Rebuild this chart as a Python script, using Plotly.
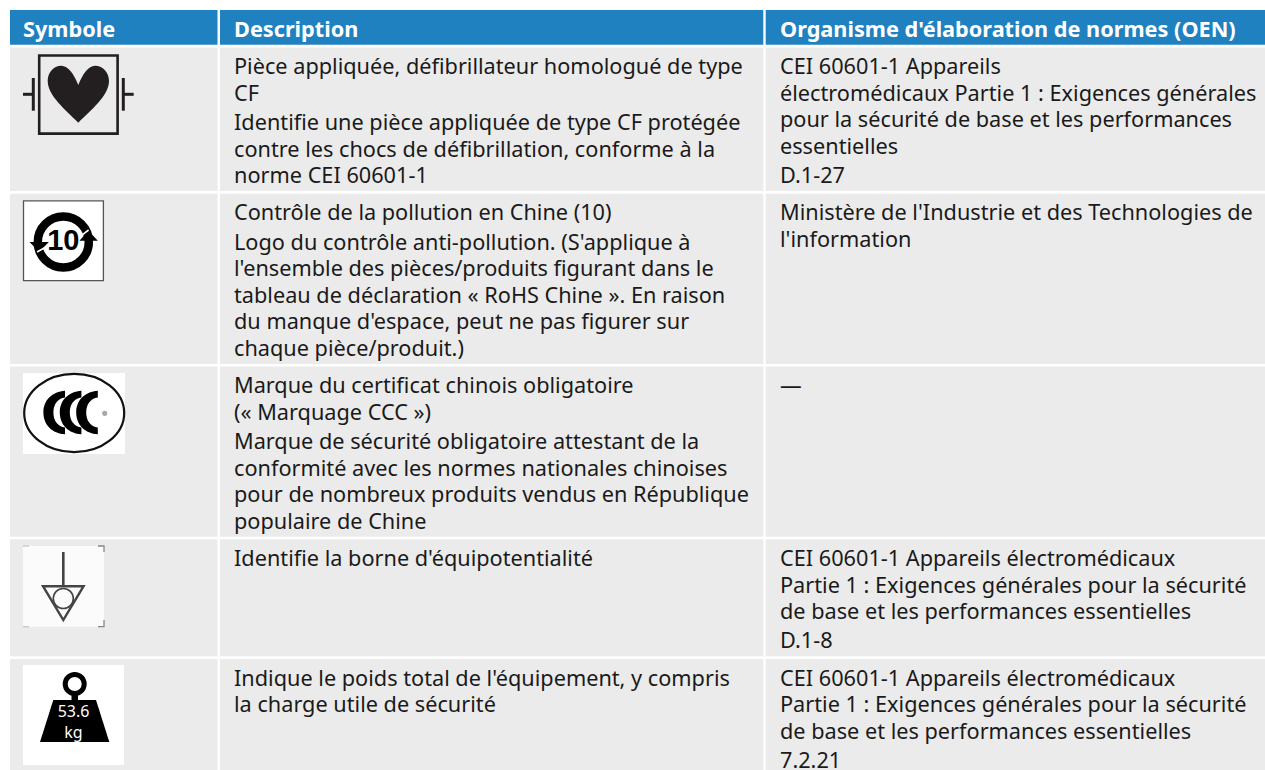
import plotly.graph_objects as go

# ---------- table content ----------
headers = ["Symbole", "Description", "Organisme d'élaboration de normes (OEN)"]

descriptions = [
    [["Pièce appliquée, défibrillateur homologué de type", "CF"],
     ["Identifie une pièce appliquée de type CF protégée",
      "contre les chocs de défibrillation, conforme à la",
      "norme CEI 60601-1"]],
    [["Contrôle de la pollution en Chine (10)"],
     ["Logo du contrôle anti-pollution. (S'applique à",
      "l'ensemble des pièces/produits figurant dans le",
      "tableau de déclaration « RoHS Chine ». En raison",
      "du manque d'espace, peut ne pas figurer sur",
      "chaque pièce/produit.)"]],
    [["Marque du certificat chinois obligatoire", "(« Marquage CCC »)"],
     ["Marque de sécurité obligatoire attestant de la",
      "conformité avec les normes nationales chinoises",
      "pour de nombreux produits vendus en République",
      "populaire de Chine"]],
    [["Identifie la borne d'équipotentialité"]],
    [["Indique le poids total de l'équipement, y compris",
      "la charge utile de sécurité"]],
]

standards = [
    [["CEI 60601-1 Appareils",
      "électromédicaux Partie 1 : Exigences générales",
      "pour la sécurité de base et les performances",
      "essentielles"],
     ["D.1-27"]],
    [["Ministère de l'Industrie et des Technologies de", "l'information"]],
    [["—"]],
    [["CEI 60601-1 Appareils électromédicaux",
      "Partie 1 : Exigences générales pour la sécurité",
      "de base et les performances essentielles"],
     ["D.1-8"]],
    [["CEI 60601-1 Appareils électromédicaux",
      "Partie 1 : Exigences générales pour la sécurité",
      "de base et les performances essentielles"],
     ["7.2.21"]],
]

weight_label = ["53.6", "kg"]
pollution_label = "10"

# ---------- style / layout ----------
FONT = "Noto Sans"
SIZE = 21.7
HEAD_BLUE = "#1f81bf"
ROW_GREY = "#ebebeb"
INK = "#1a1a1a"
ICON = "#231f20"
LINE_H = 26.6
PARA_GAP = 2.6
ROW_PAD = 10.6
FIRST = 21.3
COLS = [(10, 217.5), (220, 763.3), (765.7, 1265)]
TEXT_X = [23, 234, 780]

shapes = []


def rect(x0, y0, x1, y1, fill, line=None, w=0):
    shapes.append(dict(type="rect", layer="below", x0=x0, x1=x1, y0=y0, y1=y1,
                       fillcolor=fill, line=dict(color=line or fill, width=w)))


def path(d, fill=None, line=None, w=0):
    shapes.append(dict(type="path", layer="below", path=d,
                       fillcolor=fill or "rgba(0,0,0,0)",
                       line=dict(color=line or "rgba(0,0,0,0)", width=w)))


def circle(cx, cy, rx, ry, fill=None, line=None, w=0):
    shapes.append(dict(type="circle", layer="below", x0=cx - rx, x1=cx + rx,
                       y0=cy - ry, y1=cy + ry,
                       fillcolor=fill or "rgba(0,0,0,0)",
                       line=dict(color=line or "rgba(0,0,0,0)", width=w)))


# header band
for c0, c1 in COLS:
    rect(c0, 10, c1, 44.7, HEAD_BLUE)

# rows and their text lines, positions derived from the line counts
tx = {1: [], 2: []}
ty = {1: [], 2: []}
top = 47.5
for desc, std in zip(descriptions, standards):
    extents = []
    for col, cell in ((1, desc), (2, std)):
        y = top + FIRST
        n = 0
        for p, para in enumerate(cell):
            if p:
                y += PARA_GAP
            for ln in para:
                tx[col].append(ln)
                ty[col].append(y)
                y += LINE_H
                n += 1
        extents.append(n * LINE_H + (len(cell) - 1) * PARA_GAP)
    height = max(extents) + ROW_PAD
    for c0, c1 in COLS:
        rect(c0, top, c1, top + height - 2.6, ROW_GREY)
    top += height

# ---------- icons ----------
# 1. defibrillation-proof type CF
rect(39.2, 55.5, 117.6, 133.6, "rgba(0,0,0,0)", ICON, 2.6)
path("M78.3 85 C74 74 68 65.7 61.5 65.7 C53 65.7 47.7 73 47.7 81 "
     "C47.7 96 66 110 78.3 122.7 C90.6 110 109 96 109 81 "
     "C109 73 103.5 65.7 95 65.7 C88.5 65.7 82.6 74 78.3 85 Z", ICON)
for d in ("M33.3 78 L33.3 110.7", "M23 94.3 L33.3 94.3",
          "M123.3 78 L123.3 110.7", "M123.3 94.3 L133.7 94.3"):
    path(d, None, ICON, 3)

# 2. China pollution control
rect(23.5, 200.8, 103.4, 280.6, "#ffffff", "#555555", 1.3)
circle(63.3, 242, 25.5, 25.5, None, "#000000", 8.5)
path("M29.5 242 L48.8 242 L39.3 252 Z", "#000000")
path("M79.5 240.7 L97.8 240.7 L88.3 230.5 Z", "#000000")
path("M37 252 L46.5 246.8", None, "#ffffff", 1.6)
path("M88.6 230 L81 235.8", None, "#ffffff", 1.6)

# 3. CCC
rect(23, 373, 125, 454, "#ffffff")
circle(74.2, 413, 50, 39.2, None, "#111111", 2.2)
for dx in (0, 16.4, 32.8):
    x = 43.4 + dx
    path(f"M{x+21.6} 390.7 C{x+9} 391.5 {x} 400 {x} 412.5 C{x} 425 {x+9} 433.5 {x+21.6} 434.3 "
         f"L{x+21.6} 427.5 C{x+14.5} 426.5 {x+10} 421 {x+10} 412.5 C{x+10} 404 {x+14.5} 398.5 {x+21.6} 397.5 Z",
         "#000000")
circle(104.7, 413.3, 2.6, 2.6, "#a8a8a8")

# 4. equipotentiality
rect(23, 546, 104, 626.7, "#fbfbfb")
for d in ("M23 546 L29 546", "M23 626.7 L29 626.7"):
    path(d, None, "#bbbbbb", 1)
for d in ("M98 546 L104 546 L104 552", "M104 620 L104 626.7 L98 626.7"):
    path(d, None, "#888888", 1.3)
path("M63.3 552 L63.3 586", None, "#444444", 2.6)
path("M43 586.2 L83.6 586.2 L63.3 620 Z", None, "#444444", 2.4)
circle(63.3, 598.5, 10, 10, "#fbfbfb", "#444444", 1.6)

# 5. weight
rect(23, 665, 124, 765, "#ffffff")
circle(74.7, 684, 9.5, 9.5, None, "#000000", 5)
rect(71.5, 693, 78, 701, "#000000")
path("M53.3 700 L96 700 L109.3 742 L40 742 Z", "#000000")

# ---------- traces ----------
fig = go.Figure()
fig.add_trace(go.Scatter(
    x=list(TEXT_X), y=[32] * 3, text=[f"<b>{h}</b>" for h in headers],
    mode="text", textposition="middle right",
    textfont=dict(family=FONT, size=SIZE, color="#ffffff"), hoverinfo="skip",
))
for col in (1, 2):
    fig.add_trace(go.Scatter(
        x=[TEXT_X[col]] * len(tx[col]), y=ty[col], text=tx[col],
        mode="text", textposition="middle right",
        textfont=dict(family=FONT, size=SIZE, color=INK), hoverinfo="skip",
    ))
fig.add_trace(go.Scatter(
    x=[73.5, 73.5], y=[712.5, 734], text=weight_label, mode="text",
    textposition="middle center",
    textfont=dict(family="Noto Sans", size=16, color="#ffffff"), hoverinfo="skip",
))
fig.add_trace(go.Scatter(
    x=[63.3], y=[242.5], text=[f"<b>{pollution_label}</b>"], mode="text",
    textposition="middle center",
    textfont=dict(family="Liberation Sans", size=29, color="#000000"), hoverinfo="skip",
))

fig.update_layout(
    width=1265, height=770, margin=dict(l=0, r=0, t=0, b=0),
    paper_bgcolor="#ffffff", plot_bgcolor="#ffffff", showlegend=False,
    hovermode=False, shapes=shapes,
    xaxis=dict(range=[0, 1265], visible=False, fixedrange=True),
    yaxis=dict(range=[770, 0], visible=False, fixedrange=True),
)
fig.write_html("out.html", config=dict(displayModeBar=False),
               post_script="document.body.style.margin='0';document.body.style.overflow='hidden';")
